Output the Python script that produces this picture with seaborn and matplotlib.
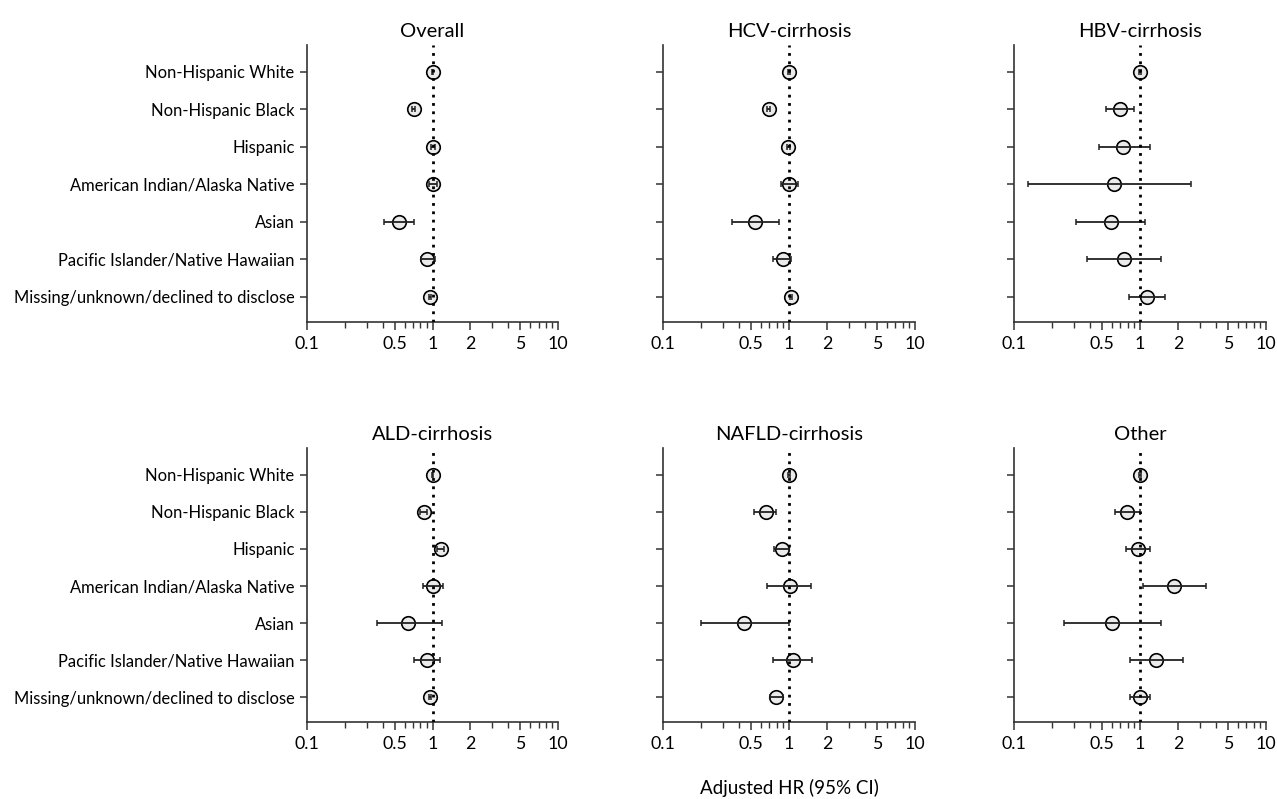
"""Forest plots of adjusted HR by race/ethnicity, six cirrhosis groups."""

import matplotlib

matplotlib.use("Agg")

import matplotlib.pyplot as plt  # noqa: E402
import matplotlib.ticker as mticker  # noqa: E402
import pandas as pd  # noqa: E402
import seaborn as sns  # noqa: E402

groups = [
    "Non-Hispanic White",
    "Non-Hispanic Black",
    "Hispanic",
    "American Indian/Alaska Native",
    "Asian",
    "Pacific Islander/Native Hawaiian",
    "Missing/unknown/declined to disclose",
]

panels = ["Overall", "HCV-cirrhosis", "HBV-cirrhosis",
          "ALD-cirrhosis", "NAFLD-cirrhosis", "Other"]

# hazard ratio, lower and upper 95% CI per panel
hr_overall = [1.00, 0.71, 1.01, 1.00, 0.54, 0.91, 0.96]
lo_overall = [0.99, 0.69, 0.98, 0.93, 0.41, 0.81, 0.94]
hi_overall = [1.01, 0.73, 1.04, 1.08, 0.71, 1.04, 0.98]

hr_hcv = [1.00, 0.69, 0.99, 1.00, 0.54, 0.89, 1.03]
lo_hcv = [0.99, 0.67, 0.96, 0.86, 0.35, 0.75, 1.01]
hi_hcv = [1.01, 0.71, 1.02, 1.18, 0.83, 1.04, 1.05]

hr_hbv = [1.00, 0.70, 0.73, 0.62, 0.59, 0.74, 1.14]
lo_hbv = [0.99, 0.54, 0.47, 0.13, 0.31, 0.38, 0.82]
hi_hbv = [1.01, 0.90, 1.19, 2.53, 1.10, 1.46, 1.57]

hr_ald = [1.00, 0.85, 1.16, 1.01, 0.64, 0.90, 0.95]
lo_ald = [0.99, 0.80, 1.09, 0.84, 0.36, 0.71, 0.93]
hi_ald = [1.01, 0.91, 1.23, 1.22, 1.18, 1.15, 0.97]

hr_nafld = [1.00, 0.66, 0.88, 1.01, 0.44, 1.07, 0.79]
lo_nafld = [0.99, 0.53, 0.76, 0.67, 0.20, 0.74, 0.71]
hi_nafld = [1.01, 0.79, 1.00, 1.50, 1.00, 1.52, 0.89]

hr_other = [1.00, 0.79, 0.97, 1.87, 0.60, 1.34, 1.00]
lo_other = [0.99, 0.63, 0.77, 1.06, 0.25, 0.83, 0.83]
hi_other = [1.01, 1.00, 1.21, 3.35, 1.47, 2.18, 1.19]

estimates = [
    (hr_overall, lo_overall, hi_overall),
    (hr_hcv, lo_hcv, hi_hcv),
    (hr_hbv, lo_hbv, hi_hbv),
    (hr_ald, lo_ald, hi_ald),
    (hr_nafld, lo_nafld, hi_nafld),
    (hr_other, lo_other, hi_other),
]

x_ticks = [0.1, 0.5, 1, 2, 5, 10]
x_labels = ["0.1", "0.5", "1", "2", "5", "10"]

sns.set_theme(style="ticks")
plt.rcParams["font.family"] = ["Lato", "DejaVu Sans"]
plt.rcParams["text.color"] = "black"
plt.rcParams["xtick.labelcolor"] = "black"
plt.rcParams["ytick.labelcolor"] = "black"

W, H = 1277, 799
fig = plt.figure(figsize=(W / 100, H / 100), dpi=100)

col_x = [(307, 558), (663, 915), (1014, 1266)]
row_y = [(45, 322), (448, 722)]

for i, (name, (hr, lo, hi)) in enumerate(zip(panels, estimates)):
    r, c = divmod(i, 3)
    x0, x1 = col_x[c]
    y0, y1 = row_y[r]
    ax = fig.add_axes([x0 / W, 1 - y1 / H, (x1 - x0) / W, (y1 - y0) / H])

    df = pd.DataFrame({"group": groups, "hr": hr, "lo": lo, "hi": hi})
    df["pos"] = range(len(groups))

    sns.scatterplot(
        data=df, x="hr", y="pos", ax=ax, s=95, marker="o",
        color="#ebebeb", edgecolor="black", linewidth=1.2, zorder=3,
    )
    ax.errorbar(
        df["hr"], df["pos"],
        xerr=[df["hr"] - df["lo"], df["hi"] - df["hr"]],
        fmt="none", ecolor="#222222", elinewidth=1.3, capsize=2,
        capthick=1.1, zorder=4,
    )
    ax.axvline(1, color="black", linestyle=(0, (1, 2)), linewidth=2, zorder=5)

    ax.set_xscale("log")
    ax.set_xlim(0.1, 10)
    ax.set_ylim(len(groups) - 1 + 0.67, -0.72)
    ax.xaxis.set_major_locator(mticker.FixedLocator(x_ticks))
    ax.xaxis.set_major_formatter(mticker.FixedFormatter(x_labels))
    ax.xaxis.set_minor_locator(mticker.LogLocator(base=10, subs=range(2, 10)))
    ax.xaxis.set_minor_formatter(mticker.NullFormatter())
    ax.set_yticks(df["pos"])
    if c == 0:
        ax.set_yticklabels(groups, fontsize=11.9)
    else:
        ax.set_yticklabels([])

    ax.tick_params(axis="x", which="major", length=6, width=1.1,
                   labelsize=12.8, color="#333333", pad=4)
    ax.tick_params(axis="x", which="minor", length=4, width=1.0, color="#333333")
    ax.tick_params(axis="y", length=5, width=1.1, color="#333333", pad=4)

    for side in ("top", "right"):
        ax.spines[side].set_visible(False)
    for side in ("left", "bottom"):
        ax.spines[side].set_color("#333333")
        ax.spines[side].set_linewidth(1.2)

    ax.set_xlabel("")
    ax.set_ylabel("")
    ax.set_title(name, fontsize=14.5, pad=6)

fig.text(789 / W, 1 - 788 / H, "Adjusted HR (95% CI)", ha="center",
         va="center", fontsize=13.5)

fig.savefig("out.png", dpi=100)
